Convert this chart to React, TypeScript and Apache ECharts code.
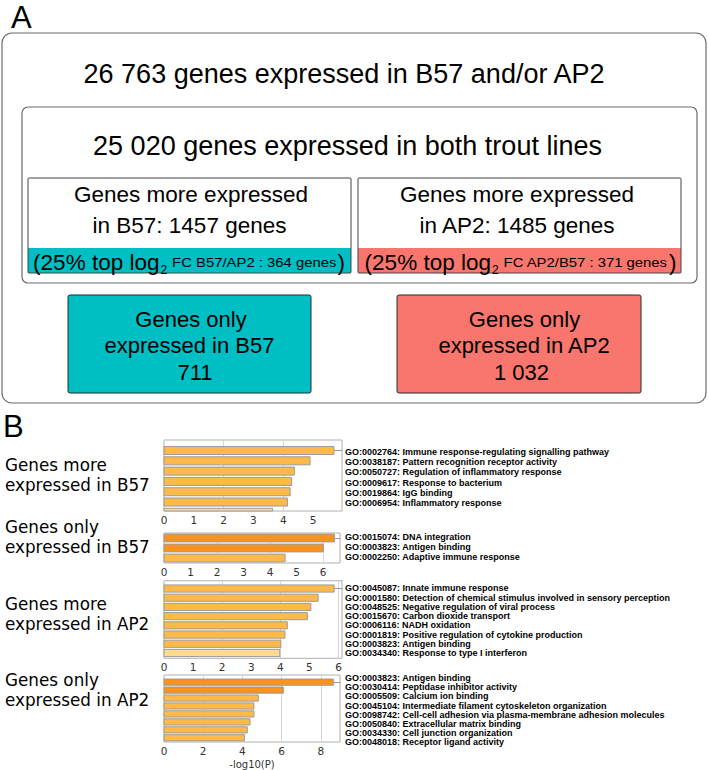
import React, { useEffect, useRef } from 'react';
import * as echarts from 'echarts';

// ---------- Panel A content ----------
const totalGenes = '26 763';
const sharedGenes = '25 020';
const moreB57 = '1457';
const moreAP2 = '1485';
const topB57 = '364';
const topAP2 = '371';
const onlyB57 = '711';
const onlyAP2 = '1 032';

// ---------- Panel B data ----------
const groupNames = [
  ['Genes more', 'expressed in B57'],
  ['Genes only', 'expressed in B57'],
  ['Genes more', 'expressed in AP2'],
  ['Genes only', 'expressed in AP2'],
];

const termsMoreB57 = [
  'GO:0002764: Immune response-regulating signalling pathway',
  'GO:0038187: Pattern recognition receptor activity',
  'GO:0050727: Regulation of inflammatory response',
  'GO:0009617: Response to bacterium',
  'GO:0019864: IgG binding',
  'GO:0006954: Inflammatory response',
];
const logPMoreB57 = [5.7, 4.9, 4.37, 4.28, 4.23, 4.14, 3.64];

const termsOnlyB57 = [
  'GO:0015074: DNA integration',
  'GO:0003823: Antigen binding',
  'GO:0002250: Adaptive immune response',
];
const logPOnlyB57 = [6.43, 6.01, 4.57];

const termsMoreAP2 = [
  'GO:0045087: Innate immune response',
  'GO:0001580: Detection of chemical stimulus involved in sensory perception',
  'GO:0048525: Negative regulation of viral process',
  'GO:0015670: Carbon dioxide transport',
  'GO:0006116: NADH oxidation',
  'GO:0001819: Positive regulation of cytokine production',
  'GO:0003823: Antigen binding',
  'GO:0034340: Response to type I interferon',
];
const logPMoreAP2 = [5.85, 5.3, 5.05, 4.93, 4.24, 4.16, 4.02, 3.98];

const termsOnlyAP2 = [
  'GO:0003823: Antigen binding',
  'GO:0030414: Peptidase inhibitor activity',
  'GO:0005509: Calcium ion binding',
  'GO:0045104: Intermediate filament cytoskeleton organization',
  'GO:0098742: Cell-cell adhesion via plasma-membrane adhesion molecules',
  'GO:0050840: Extracellular matrix binding',
  'GO:0034330: Cell junction organization',
  'GO:0048018: Receptor ligand activity',
];
const logPOnlyAP2 = [8.64, 6.09, 4.81, 4.59, 4.59, 4.39, 4.25, 4.1];

const xAxisName = '-log10(P)';

// ---------- styles ----------
const SANS = '"Liberation Sans", Arial, sans-serif';
const VERD = '"DejaVu Sans", Verdana, sans-serif';
const CYAN = '#00BFC4';
const SALMON = '#F8766D';
const DARK = '#F7931E';
const LIGHT = '#FDBA4B';
const PALE = '#FDDC8F';
const barColor = (v: number) => (v >= 6 ? DARK : v >= 4 ? LIGHT : PALE);
const BAR_T = 0.78;

const panels = [
  { terms: termsMoreB57, values: logPMoreB57, names: groupNames[0], left: 164, width: 178, top: 440, height: 71, xMax: 5.97, xInterval: 1, yMin: -1.02, yMax: 5.87, labelTop: 446.5, labelHeight: 61.8, nameY: [465, 484.5] },
  { terms: termsOnlyB57, values: logPOnlyB57, names: groupNames[1], left: 164, width: 176, top: 533, height: 30, xMax: 6.64, xInterval: 1, yMin: -0.5, yMax: 2.5, labelTop: 531.7, labelHeight: 30.9, nameY: [527, 546.5] },
  { terms: termsMoreAP2, values: logPMoreAP2, names: groupNames[2], left: 164, width: 178, top: 580.7, height: 77.6, xMax: 6.12, xInterval: 1, yMin: -0.85, yMax: 7.58, labelTop: 583.7, labelHeight: 74.2, nameY: [604, 623.5] },
  { terms: termsOnlyAP2, values: logPOnlyAP2, names: groupNames[3], left: 164, width: 176, top: 675, height: 68, xMax: 8.98, xInterval: 2, yMin: -0.9, yMax: 7.53, labelTop: 673.8, labelHeight: 72.5, nameY: [680, 699.5] },
];

let measureCtx: CanvasRenderingContext2D | null = null;
function textWidth(text: string, size: number, family = SANS) {
  if (!measureCtx) measureCtx = document.createElement('canvas').getContext('2d');
  measureCtx!.font = `${size}px ${family}`;
  return measureCtx!.measureText(text).width;
}

function txt(text: string, x: number, y: number, size: number, align = 'center', family = SANS, extra: any = {}) {
  return {
    type: 'text',
    x,
    y,
    z: 10,
    ...extra,
    style: { text, fontSize: size, fontFamily: family, fill: '#000', align, verticalAlign: 'middle' },
  };
}

function stripText(cx: number, ratio: string, count: string) {
  const mainSize = 22.5;
  const subSize = 12;
  const smallSize = 13.5;
  const smallScale = 1.1;
  const p1 = '(25% top log';
  const p2 = '2';
  const p3 = `FC ${ratio} : ${count} genes`;
  const p4 = ')';
  const w1 = textWidth(p1, mainSize);
  const w2 = textWidth(p2, subSize);
  const gap = 5;
  const w3 = textWidth(p3, smallSize) * smallScale;
  const w4 = textWidth(p4, mainSize);
  const total = w1 + 1 + w2 + gap + w3 + 1 + w4;
  let x = cx - total / 2;
  const els: any[] = [];
  els.push(txt(p1, x, 262, mainSize, 'left'));
  x += w1 + 1;
  els.push(txt(p2, x, 270.2, subSize, 'left'));
  x += w2 + gap;
  els.push(txt(p3, x, 262, smallSize, 'left', SANS, { scaleX: smallScale }));
  x += w3 + 1;
  els.push(txt(p4, x, 262, mainSize, 'left'));
  return els;
}

function buildOption() {
  const graphics: any[] = [];
  // Panel A
  graphics.push(txt('A', 11, 17, 31, 'left'));
  graphics.push({ type: 'rect', shape: { x: 2, y: 33, width: 704, height: 370, r: 10 }, style: { fill: 'none', stroke: '#6b6b6b', lineWidth: 1.2 } });
  graphics.push(txt(`${totalGenes} genes expressed in B57 and/or AP2`, 344, 73.5, 27));
  graphics.push({ type: 'rect', shape: { x: 22, y: 107, width: 675, height: 176, r: 6 }, style: { fill: 'none', stroke: '#6b6b6b', lineWidth: 1.2 } });
  graphics.push(txt(`${sharedGenes} genes expressed in both trout lines`, 347.5, 145.5, 27));

  // middle boxes
  graphics.push({ type: 'rect', shape: { x: 28, y: 248, width: 323, height: 25 }, style: { fill: CYAN } });
  graphics.push({ type: 'rect', shape: { x: 28, y: 178, width: 323, height: 95, r: 1 }, style: { fill: 'none', stroke: '#444', lineWidth: 1 } });
  graphics.push(txt('Genes more expressed', 191, 194, 22.5));
  graphics.push(txt(`in B57: ${moreB57} genes`, 189.5, 225, 22.5));
  graphics.push(...stripText(189, 'B57/AP2', topB57));

  graphics.push({ type: 'rect', shape: { x: 358, y: 248, width: 323, height: 25 }, style: { fill: SALMON } });
  graphics.push({ type: 'rect', shape: { x: 358, y: 178, width: 323, height: 95, r: 1 }, style: { fill: 'none', stroke: '#444', lineWidth: 1 } });
  graphics.push(txt('Genes more expressed', 517, 194, 22.5));
  graphics.push(txt(`in AP2: ${moreAP2} genes`, 517, 225, 22.5));
  graphics.push(...stripText(520.5, 'AP2/B57', topAP2));

  // bottom boxes
  graphics.push({ type: 'rect', shape: { x: 68, y: 295, width: 243, height: 98, r: 2 }, style: { fill: CYAN, stroke: '#2a2a2a', lineWidth: 1 } });
  graphics.push(txt('Genes only', 191, 319, 22));
  graphics.push(txt('expressed in B57', 189.5, 345.6, 22));
  graphics.push(txt(onlyB57, 195, 372.5, 22));
  graphics.push({ type: 'rect', shape: { x: 397, y: 295, width: 244, height: 98, r: 2 }, style: { fill: SALMON, stroke: '#2a2a2a', lineWidth: 1 } });
  graphics.push(txt('Genes only', 524.5, 319, 22));
  graphics.push(txt('expressed in AP2', 524, 345.6, 22));
  graphics.push(txt(onlyAP2, 521.5, 372.5, 22));

  // Panel B label
  graphics.push(txt('B', 3, 426, 31, 'left'));

  const grid: any[] = [];
  const xAxis: any[] = [];
  const yAxis: any[] = [];
  const series: any[] = [];

  panels.forEach((p, k) => {
    graphics.push(txt(p.names[0], 5, p.nameY[0], 16.8, 'left', VERD));
    graphics.push(txt(p.names[1], 5, p.nameY[1], 16.8, 'left', VERD));

    grid.push({ left: p.left, top: p.top, width: p.width, height: p.height, show: true, borderColor: '#b0b0b0', borderWidth: 1, backgroundColor: 'transparent' });
    grid.push({ left: 341, top: p.labelTop, width: 1, height: p.labelHeight, show: false });

    const last = k === panels.length - 1;
    xAxis.push({
      type: 'value', gridIndex: 2 * k, min: 0, max: p.xMax, interval: p.xInterval,
      axisLine: { show: true, lineStyle: { color: '#9a9a9a', width: 1 } },
      axisTick: { show: false },
      splitLine: { show: false },
      axisLabel: { margin: 3, fontSize: 10.5, fontFamily: VERD, color: '#333', showMaxLabel: false, showMinLabel: true },
      name: last ? xAxisName : '',
      nameLocation: 'middle',
      nameGap: 17,
      nameTextStyle: { fontSize: 10, fontFamily: VERD, color: '#333' },
    });
    xAxis.push({
      type: 'value', gridIndex: 2 * k, min: 0, max: p.xMax, interval: 2,
      axisLine: { show: false }, axisTick: { show: false }, axisLabel: { show: false },
      splitLine: { show: true, lineStyle: { color: '#d6d6d6', width: 1 } },
    });
    xAxis.push({ type: 'value', gridIndex: 2 * k + 1, show: false, min: 0, max: 1 });

    yAxis.push({ type: 'value', gridIndex: 2 * k, inverse: true, min: p.yMin, max: p.yMax, show: false });
    yAxis.push({
      type: 'category', gridIndex: 2 * k + 1, inverse: true, data: p.terms, position: 'right',
      axisLine: { show: false }, axisTick: { show: false }, splitLine: { show: false },
      axisLabel: { interval: 0, margin: 3, fontSize: 9, fontWeight: 'bold', fontFamily: SANS, color: '#000' },
    });

    series.push({
      type: 'custom',
      xAxisIndex: 3 * k,
      yAxisIndex: 2 * k,
      silent: true,
      z: 5,
      data: p.values.map((v, i) => [v, i]),
      renderItem: (params: any, api: any) => {
        const v = api.value(0) as number;
        const i = api.value(1) as number;
        const a = api.coord([0, i]);
        const b = api.coord([v, i]);
        const h = api.size([0, BAR_T])[1];
        const cs = params.coordSys;
        const rect = echarts.graphic.clipRectByRect(
          { x: a[0], y: a[1] - h / 2, width: b[0] - a[0], height: h },
          { x: cs.x, y: cs.y, width: cs.width, height: cs.height }
        );
        if (!rect) return null;
        return { type: 'rect', shape: rect, style: { fill: barColor(v), stroke: '#9c9c9c', lineWidth: 1 } };
      },
    });
  });

  return {
    animation: false,
    backgroundColor: '#ffffff',
    grid,
    xAxis,
    yAxis,
    series,
    graphic: { elements: graphics },
  };
}

export default function App() {
  const ref = useRef<HTMLDivElement>(null);
  useEffect(() => {
    document.body.style.margin = '0';
    const chart = echarts.init(ref.current!, null, { renderer: 'svg' });
    chart.setOption(buildOption() as any);
    return () => chart.dispose();
  }, []);
  return <div ref={ref} style={{ width: 709, height: 770 }} />;
}
